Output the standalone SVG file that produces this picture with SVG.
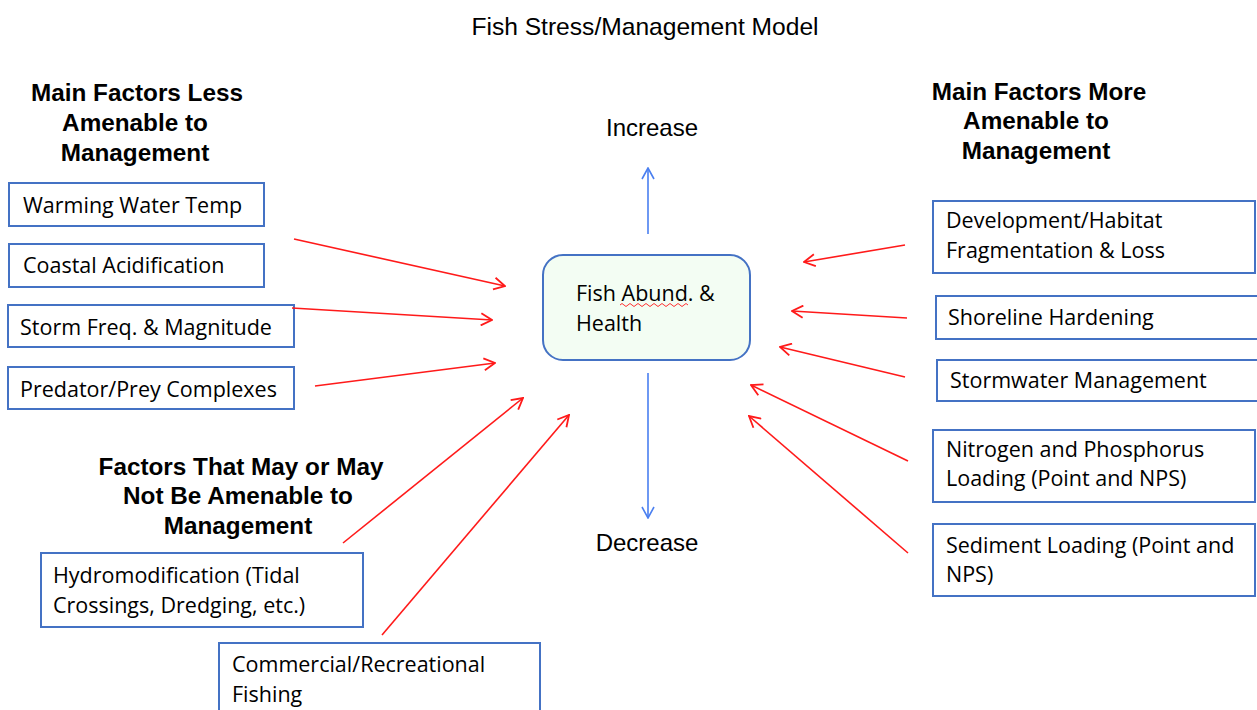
<svg xmlns="http://www.w3.org/2000/svg" width="1257" height="710" viewBox="0 0 1257 710">
<defs>
<style>
.box{fill:#ffffff;stroke:#4472c4;stroke-width:2}
.t{font-family:"Open Sans","Liberation Sans",sans-serif;font-size:21.5px;fill:#000}
.h{font-family:"Liberation Sans",Arial,sans-serif;font-size:24.3px;font-weight:bold;fill:#000;text-anchor:middle}
.r{font-family:"Liberation Sans",Arial,sans-serif;font-size:24px;fill:#000;text-anchor:middle}
.ti{font-family:"Liberation Sans",Arial,sans-serif;font-size:24.6px;fill:#000;text-anchor:middle}
.red{stroke:#ff1a1a;stroke-width:1.6;fill:none;marker-end:url(#ar)}
.blue{stroke:#4a7ff0;stroke-width:1.6;fill:none;marker-end:url(#ab)}
</style>
<marker id="ar" viewBox="0 0 14 14" refX="13" refY="7" markerWidth="14" markerHeight="14" markerUnits="userSpaceOnUse" orient="auto">
<path d="M2,1 L13,7 L2,13" fill="none" stroke="#ff1a1a" stroke-width="1.8"/>
</marker>
<marker id="ab" viewBox="0 0 14 14" refX="13" refY="7" markerWidth="14" markerHeight="14" markerUnits="userSpaceOnUse" orient="auto">
<path d="M2,1 L13,7 L2,13" fill="none" stroke="#4a7ff0" stroke-width="1.6"/>
</marker>
</defs>
<rect width="1257" height="710" fill="#ffffff"/>

<g id="title"><text class="ti" x="645" y="35">Fish Stress/Management Model</text></g>

<g id="heading-less">
<text class="h" x="137" y="101">Main Factors Less</text>
<text class="h" x="135" y="131">Amenable to</text>
<text class="h" x="135" y="161">Management</text>
</g>
<g id="heading-more">
<text class="h" x="1039" y="100">Main Factors More</text>
<text class="h" x="1036" y="129">Amenable to</text>
<text class="h" x="1036" y="159">Management</text>
</g>
<g id="heading-may">
<text class="h" x="241" y="475">Factors That May or May</text>
<text class="h" x="238" y="504">Not Be Amenable to</text>
<text class="h" x="238" y="534">Management</text>
</g>

<g id="increase"><text class="r" x="652" y="136">Increase</text></g>
<g id="decrease"><text class="r" x="647" y="551">Decrease</text></g>

<g id="center">
<rect x="543" y="255" width="207" height="105" rx="20" ry="20" fill="#f3fdf3" stroke="#4472c4" stroke-width="2"/>
<text class="t" x="576" y="301">Fish Abund. &amp;</text>
<text class="t" x="576" y="331">Health</text>
<path d="M620,305 q2,-3 4,0 t4,0 t4,0 t4,0 t4,0 t4,0 t4,0 t4,0 t4,0 t4,0 t4,0 t4,0 t4,0 t4,0 t4,0 t4,0 t4,0" fill="none" stroke="#ff3030" stroke-width="1"/>
</g>

<g id="warming"><rect class="box" x="9" y="183" width="255" height="43"/><text class="t" x="23" y="213">Warming Water Temp</text></g>
<g id="acidification"><rect class="box" x="9" y="244" width="255" height="43"/><text class="t" x="23" y="273">Coastal Acidification</text></g>
<g id="storm"><rect class="box" x="8" y="305" width="286" height="42"/><text class="t" x="20" y="335">Storm Freq. &amp; Magnitude</text></g>
<g id="predator"><rect class="box" x="8" y="367" width="286" height="42"/><text class="t" x="20" y="397">Predator/Prey Complexes</text></g>

<g id="hydromodification"><rect class="box" x="41" y="553" width="322" height="74"/><text class="t" x="53" y="583">Hydromodification (Tidal</text><text class="t" x="53" y="613">Crossings, Dredging, etc.)</text></g>
<g id="fishing"><rect class="box" x="219" y="643" width="321" height="80"/><text class="t" x="232" y="672">Commercial/Recreational</text><text class="t" x="232" y="702">Fishing</text></g>

<g id="development"><rect class="box" x="933" y="201" width="322" height="72"/><text class="t" x="946" y="228">Development/Habitat</text><text class="t" x="946" y="258">Fragmentation &amp; Loss</text></g>
<g id="shoreline"><rect class="box" x="936" y="296" width="330" height="43"/><text class="t" x="948" y="325">Shoreline Hardening</text></g>
<g id="stormwater"><rect class="box" x="937" y="360" width="330" height="41"/><text class="t" x="950" y="388">Stormwater Management</text></g>
<g id="nutrients"><rect class="box" x="933" y="430" width="322" height="72"/><text class="t" x="946" y="457">Nitrogen and Phosphorus</text><text class="t" x="946" y="486">Loading (Point and NPS)</text></g>
<g id="sediment"><rect class="box" x="933" y="524" width="322" height="72"/><text class="t" x="946" y="553">Sediment Loading (Point and</text><text class="t" x="946" y="582">NPS)</text></g>

<g id="connectors">
<line class="blue" x1="648" y1="234" x2="648" y2="168"/>
<line class="blue" x1="648" y1="373" x2="648" y2="518"/>
<line class="red" x1="294" y1="239" x2="505" y2="286"/>
<line class="red" x1="292" y1="308" x2="492" y2="320"/>
<line class="red" x1="315" y1="386" x2="495" y2="363"/>
<line class="red" x1="343" y1="543" x2="523" y2="398"/>
<line class="red" x1="382" y1="635" x2="569" y2="415"/>
<line class="red" x1="905" y1="245" x2="804" y2="262"/>
<line class="red" x1="907" y1="318" x2="792" y2="311"/>
<line class="red" x1="905" y1="377" x2="780" y2="347"/>
<line class="red" x1="908" y1="461" x2="751" y2="385"/>
<line class="red" x1="908" y1="553" x2="749" y2="416"/>
</g>
</svg>
